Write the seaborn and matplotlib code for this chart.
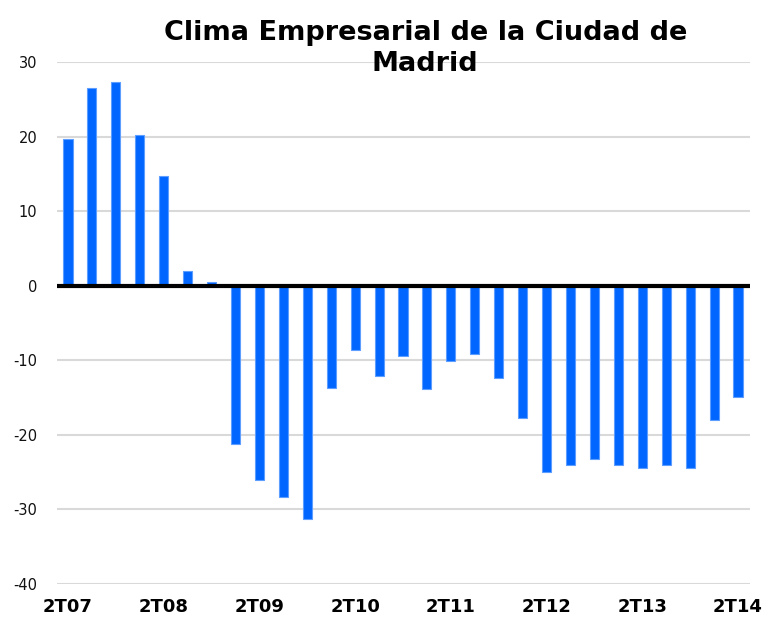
import matplotlib
matplotlib.use("Agg")
import matplotlib.pyplot as plt
import seaborn as sns
import pandas as pd

quarters = ["2T07", "3T07", "4T07", "1T08", "2T08", "3T08", "4T08", "1T09",
            "2T09", "3T09", "4T09", "1T10", "2T10", "3T10", "4T10", "1T11",
            "2T11", "3T11", "4T11", "1T12", "2T12", "3T12", "4T12", "1T13",
            "2T13", "3T13", "4T13", "1T14", "2T14"]
values = [19.7, 26.5, 27.3, 20.2, 14.7, 2.0, 0.5, -21.2,
          -26.1, -28.3, -31.3, -13.7, -8.6, -12.1, -9.4, -13.9,
          -10.1, -9.1, -12.4, -17.7, -25.0, -24.1, -23.3, -24.1,
          -24.5, -24.1, -24.5, -18.0, -14.9]
shown_labels = ["2T07", "2T08", "2T09", "2T10", "2T11", "2T12", "2T13", "2T14"]
yticks = [-40, -30, -20, -10, 0, 10, 20, 30]

df = pd.DataFrame({"trimestre": quarters, "valor": values})

sns.set_style("white")
plt.rcParams["font.family"] = ["DejaVu Sans"]
plt.rcParams["axes.unicode_minus"] = False

fig = plt.figure(figsize=(7.69, 6.21), dpi=100)
ax = fig.add_axes([0.0741, 0.0596, 0.9012, 0.8406])

sns.barplot(data=df, x="trimestre", y="valor", color="#0066ff", width=0.38,
            saturation=1, edgecolor="#5c9dff", linewidth=0.8, ax=ax, zorder=3)

ax.set_ylim(-40, 30)
ax.set_xlim(-0.46, 28.5)
ax.set_yticks(yticks)
ax.yaxis.grid(True, color="#d9d9d9", linewidth=1.5, zorder=0)
ax.set_axisbelow(True)
ax.axhline(0, color="black", linewidth=3, zorder=4)

pos = [quarters.index(q) for q in shown_labels]
ax.set_xticks(pos)
ax.set_xticklabels(shown_labels, fontsize=13, fontweight="bold", color="black")
ax.tick_params(axis="x", length=0, pad=10)
ax.tick_params(axis="y", length=0, labelsize=10.5, pad=14, labelcolor="#111111")
ax.set_xlabel("")
ax.set_ylabel("")
for s in ax.spines.values():
    s.set_visible(False)

fig.text(0.553, 0.922, "Clima Empresarial de la Ciudad de\nMadrid", ha="center",
         va="center", fontsize=19.5, fontweight="bold", linespacing=1.25,
         color="black")

fig.savefig("out.png", dpi=100)
